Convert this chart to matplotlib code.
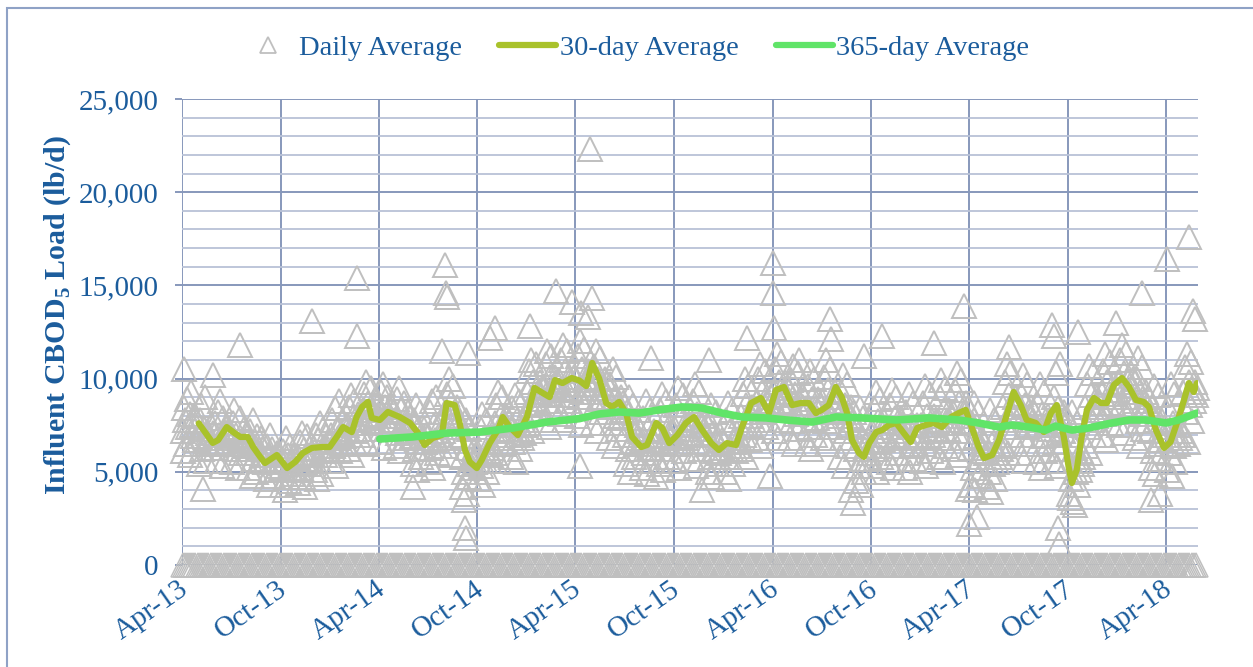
import numpy as np
import pandas as pd
import matplotlib
matplotlib.use("Agg")
import matplotlib.pyplot as plt
import matplotlib.dates as mdates
import matplotlib.transforms as mtransforms
from matplotlib.ticker import FuncFormatter, MultipleLocator
from matplotlib.lines import Line2D
from matplotlib.patches import Rectangle

plt.rcParams['font.family'] = ['Liberation Serif', 'DejaVu Serif']
plt.rcParams['mathtext.fontset'] = 'custom'
plt.rcParams['mathtext.rm'] = 'Liberation Serif'
plt.rcParams['mathtext.bf'] = 'Liberation Serif:bold'

TEXT = '#1B5C9C'
GRAY = '#BFBFBF'
C30 = '#A9C22B'
C365 = '#60E468'
GRID_MAJ = '#8798BB'
GRID_MIN = '#B9C2D7'

# daily CBOD5 load (lb/d), fifteen readings per month starting Apr-2013
daily_by_month = [
    [7200, 6100, 8400, 7800, 6500, 8900, 7400, 5900, 8100, 9300, 7500, 6900, 8000, 6700, 7700],
    [6900, 5400, 7800, 8600, 6200, 7300, 9000, 5600, 6500, 7100, 6800, 6300, 7500, 6600, 7100],
    [7600, 6300, 5600, 8200, 7000, 8800, 6600, 5300, 7900, 7200, 7100, 6500, 7400, 6900, 7300],
    [6800, 5500, 7600, 8300, 6200, 7000, 5200, 6500, 7900, 6000, 6700, 6200, 7300, 6400, 7000],
    [6000, 5200, 7200, 6600, 4800, 7800, 5700, 6400, 5000, 6900, 6200, 5600, 6800, 5900, 6300],
    [5500, 4600, 6400, 5900, 4300, 7000, 5100, 6200, 4800, 5700, 5600, 5100, 6000, 5300, 5900],
    [5200, 4300, 6100, 5600, 4000, 6800, 4700, 5900, 4500, 6400, 5400, 4900, 5800, 5100, 5700],
    [5800, 4400, 6600, 5200, 7100, 4700, 6200, 5500, 4200, 6900, 5900, 5400, 6300, 5700, 6000],
    [6300, 5100, 7000, 4600, 6700, 5600, 7600, 4900, 6100, 7300, 6400, 5900, 6900, 6200, 6600],
    [7000, 5600, 7800, 6400, 8400, 5300, 7300, 6800, 8800, 6100, 7100, 6500, 7700, 6900, 7300],
    [7500, 6200, 8500, 7000, 9100, 5900, 7900, 6600, 8800, 7200, 7600, 7000, 8100, 7300, 7800],
    [8300, 7000, 9200, 7600, 9800, 6500, 8700, 7900, 9500, 8100, 8300, 7700, 8900, 8000, 8500],
    [8000, 6600, 9300, 7300, 9700, 6300, 8500, 7700, 9000, 8200, 8000, 7400, 8600, 7800, 8200],
    [7800, 6400, 8900, 7100, 9500, 6100, 8300, 7400, 8700, 6800, 7700, 7200, 8200, 7500, 7900],
    [6900, 5400, 7800, 6200, 8600, 5100, 7300, 6600, 8200, 5800, 6800, 6200, 7300, 6600, 7000],
    [7000, 5500, 8200, 6300, 8800, 5200, 7500, 6700, 9000, 6000, 7000, 6400, 7600, 6800, 7200],
    [8200, 6400, 9200, 7400, 10000, 5900, 8700, 7000, 9600, 6800, 8000, 7400, 8500, 7700, 8200],
    [5800, 4200, 6900, 5000, 7800, 3800, 6300, 4700, 7300, 5400, 5700, 5200, 6200, 5500, 5900],
    [6000, 4600, 7400, 5300, 8100, 4300, 6800, 5600, 7800, 5000, 6100, 5600, 6600, 5900, 6300],
    [7600, 6000, 8600, 6800, 9300, 5600, 8000, 7200, 9000, 6500, 7500, 7000, 8000, 7300, 7700],
    [7300, 5800, 8400, 6600, 9100, 5500, 7800, 7000, 8800, 6200, 7300, 6800, 7800, 7100, 7500],
    [9300, 7600, 10400, 8600, 11000, 7200, 9800, 8900, 10800, 8200, 9300, 8700, 9800, 9100, 9500],
    [9600, 7800, 10800, 8800, 11500, 7400, 10100, 9200, 11200, 8500, 9600, 9100, 10100, 9400, 9800],
    [9900, 8100, 11000, 9100, 11800, 7800, 10400, 9500, 11500, 8800, 9900, 9400, 10400, 9700, 10100],
    [9900, 8000, 11200, 9000, 12000, 7500, 10500, 9300, 11600, 8600, 9900, 9300, 10400, 9700, 10100],
    [9500, 7600, 10700, 8600, 11500, 7200, 10000, 8900, 11100, 8200, 9500, 9000, 10000, 9300, 9700],
    [8500, 6800, 9700, 7600, 10500, 6400, 9000, 8000, 10100, 7300, 8500, 7900, 9000, 8300, 8700],
    [7000, 5400, 8200, 6200, 9000, 5000, 7600, 6600, 8600, 5800, 7000, 6500, 7500, 6800, 7200],
    [6700, 5200, 7900, 6000, 8800, 4900, 7300, 6300, 8300, 5600, 6700, 6200, 7200, 6500, 6900],
    [7000, 5400, 8300, 6200, 9200, 5100, 7600, 6600, 8800, 5800, 7000, 6500, 7500, 6800, 7200],
    [7300, 5600, 8600, 6500, 9500, 5200, 7900, 6900, 9100, 6100, 7300, 6800, 7800, 7100, 7500],
    [7500, 5700, 8800, 6600, 9700, 5300, 8100, 7000, 9300, 6200, 7500, 7000, 8000, 7300, 7700],
    [6500, 5000, 7700, 5800, 8600, 4700, 7100, 6100, 8200, 5400, 6500, 6000, 7000, 6300, 6700],
    [6600, 5000, 7800, 5800, 8700, 4600, 7200, 6200, 8300, 5400, 6600, 6100, 7100, 6400, 6800],
    [8000, 6200, 9200, 7000, 10000, 5800, 8600, 7400, 9600, 6700, 8000, 7500, 8500, 7800, 8200],
    [8800, 6800, 10000, 7800, 10800, 6400, 9300, 8200, 10400, 7400, 8800, 8300, 9300, 8600, 9000],
    [9300, 7200, 10500, 8300, 11300, 6800, 9800, 8700, 10900, 7800, 9300, 8800, 9800, 9100, 9500],
    [8700, 6800, 9900, 7700, 10700, 6500, 9200, 8100, 10300, 7300, 8700, 8200, 9200, 8500, 8900],
    [8400, 6500, 9600, 7400, 10400, 6200, 8900, 7800, 10000, 7000, 8400, 7900, 8900, 8200, 8600],
    [8800, 6800, 10100, 7700, 11000, 6500, 9400, 8200, 10500, 7400, 8800, 8300, 9300, 8600, 9000],
    [8000, 5800, 9300, 6800, 10200, 5300, 8600, 7200, 9700, 6400, 8000, 7500, 8500, 7800, 8200],
    [6200, 4500, 7400, 5300, 8400, 4300, 6800, 5700, 7900, 5000, 6200, 5700, 6700, 6000, 6400],
    [7200, 5300, 8400, 6200, 9300, 5000, 7700, 6600, 8900, 5800, 7200, 6700, 7700, 7000, 7400],
    [7400, 5500, 8600, 6400, 9400, 5200, 7900, 6800, 9000, 6000, 7400, 6900, 7900, 7200, 7600],
    [7000, 5200, 8200, 6000, 9200, 5000, 7500, 6400, 8700, 5700, 7000, 6500, 7500, 6800, 7200],
    [7500, 5600, 8700, 6500, 9600, 5300, 8000, 6900, 9200, 6100, 7500, 7000, 8000, 7300, 7700],
    [7800, 5800, 9000, 6800, 9900, 5500, 8300, 7200, 9500, 6400, 7800, 7300, 8300, 7600, 8000],
    [8200, 6200, 9400, 7200, 10300, 5900, 8700, 7600, 9900, 6800, 8200, 7700, 8700, 8000, 8400],
    [6300, 4300, 7600, 5200, 8700, 4000, 6900, 5600, 8200, 4800, 6300, 5800, 6800, 6100, 6500],
    [6000, 4200, 7200, 5000, 8300, 3900, 6500, 5400, 7800, 4600, 6000, 5500, 6500, 5800, 6200],
    [8500, 6400, 9800, 7400, 10800, 6000, 9100, 7800, 10300, 7000, 8500, 8000, 9000, 8300, 8700],
    [8000, 6000, 9200, 7000, 10200, 5600, 8600, 7400, 9700, 6500, 8000, 7500, 8500, 7800, 8200],
    [7500, 5500, 8700, 6500, 9700, 5200, 8100, 6900, 9300, 6100, 7500, 7000, 8000, 7300, 7700],
    [7700, 5600, 9000, 6600, 10300, 5300, 8400, 7100, 10800, 6200, 7700, 7200, 8200, 7500, 7900],
    [5600, 3800, 7000, 4600, 8200, 3400, 6300, 5000, 7600, 4300, 5600, 5100, 6100, 5400, 5800],
    [8500, 6400, 9700, 7400, 10700, 6000, 9100, 7800, 10300, 7000, 8500, 8000, 9000, 8300, 8700],
    [9200, 7000, 10400, 8100, 11300, 6700, 9800, 8500, 10900, 7600, 9200, 8700, 9700, 9000, 9400],
    [9800, 7500, 11000, 8600, 11800, 7100, 10300, 9000, 11400, 8200, 9800, 9300, 10300, 9600, 10000],
    [8800, 6800, 10000, 7700, 11100, 6400, 9300, 8100, 10600, 7300, 8800, 8300, 9300, 8600, 9000],
    [7200, 5200, 8500, 6100, 9600, 4900, 7800, 6500, 9100, 5700, 7200, 6700, 7700, 7000, 7400],
    [7000, 5100, 8400, 6000, 9700, 4800, 7600, 6400, 9200, 5500, 7000, 6500, 7500, 6800, 7200],
    [9300, 7000, 10600, 8200, 11300, 6600, 9800, 8600, 10900, 7700, 9300, 8800, 9800, 9100, 9500],
]

# individual high / low daily readings
outlier_dates = [
    '2013-04-05', '2013-05-10', '2013-05-28', '2013-07-17', '2013-11-28',
    '2014-02-19', '2014-02-20', '2014-06-03', '2014-07-28', '2014-08-02',
    '2014-08-03', '2014-08-05', '2014-09-06', '2014-09-08', '2014-09-09',
    '2014-09-13', '2014-10-24', '2014-11-02', '2015-01-06', '2015-02-23',
    '2015-03-25', '2015-04-10', '2015-04-12', '2015-04-25', '2015-04-28',
    '2015-05-02', '2015-08-20', '2015-08-29', '2015-11-22', '2015-12-05',
    '2016-02-14', '2016-03-26', '2016-04-01', '2016-04-02', '2016-04-03',
    '2016-05-20', '2016-07-16', '2016-07-18', '2016-08-25', '2016-08-27',
    '2016-09-17', '2016-10-21', '2017-01-25', '2017-03-22', '2017-03-29',
    '2017-03-31', '2017-04-15', '2017-06-13', '2017-09-01', '2017-09-05',
    '2017-09-12', '2017-09-14', '2017-10-05', '2017-10-14', '2017-10-20',
    '2017-12-28', '2018-02-15', '2018-03-03', '2018-03-20', '2018-04-03',
    '2018-05-13', '2018-05-20', '2018-05-25',
]
outlier_values = [
    10500, 4100, 10200, 11800, 13100,
    15400, 12300, 4200, 11500, 16100,
    14600, 14400, 3500, 2000, 1450,
    11400, 12200, 12700, 12800, 14700,
    14100, 5300, 13500, 13300, 22300,
    14300, 11100, 4700, 4000, 11000,
    12200, 4800, 16200, 14600, 12700,
    11000, 13200, 12100, 4000, 3300,
    11200, 12300, 11900, 13900, 4100,
    2200, 2600, 11700, 12900, 12300,
    2000, 1100, 3600, 3200, 12500,
    13000, 14600, 3500, 3800, 16400,
    17600, 13600, 13200,
]

# days logged as zero load (the band along the x axis)
zero_start, zero_end = '2013-04-02', '2018-05-29'

avg30_dates = [
    '2013-05-02', '2013-05-28', '2013-06-07', '2013-06-23', '2013-07-05',
    '2013-07-18', '2013-08-01', '2013-08-11', '2013-08-24', '2013-09-02',
    '2013-09-24', '2013-10-13', '2013-10-28', '2013-11-11', '2013-11-28',
    '2013-12-17', '2013-12-31', '2014-01-13', '2014-01-25', '2014-02-10',
    '2014-02-19', '2014-03-01', '2014-03-12', '2014-03-19', '2014-04-03',
    '2014-04-18', '2014-05-10', '2014-05-29', '2014-06-13', '2014-06-25',
    '2014-07-10', '2014-07-27', '2014-08-05', '2014-08-20', '2014-08-29',
    '2014-09-08', '2014-09-17', '2014-09-30', '2014-10-09', '2014-10-24',
    '2014-11-08', '2014-11-17', '2014-11-30', '2014-12-15', '2015-01-01',
    '2015-01-15', '2015-01-30', '2015-02-12', '2015-02-22', '2015-03-08',
    '2015-03-25', '2015-04-08', '2015-04-21', '2015-05-02', '2015-05-15',
    '2015-05-28', '2015-06-08', '2015-06-21', '2015-07-04', '2015-07-15',
    '2015-08-01', '2015-08-12', '2015-08-29', '2015-09-09', '2015-09-22',
    '2015-10-07', '2015-10-23', '2015-11-07', '2015-11-22', '2015-12-09',
    '2015-12-23', '2016-01-07', '2016-01-24', '2016-02-04', '2016-02-21',
    '2016-03-10', '2016-03-25', '2016-04-07', '2016-04-22', '2016-05-07',
    '2016-05-23', '2016-06-07', '2016-06-20', '2016-07-01', '2016-07-14',
    '2016-07-27', '2016-08-07', '2016-08-17', '2016-08-26', '2016-09-08',
    '2016-09-17', '2016-09-27', '2016-10-10', '2016-10-21', '2016-11-03',
    '2016-11-16', '2016-11-30', '2016-12-13', '2016-12-25', '2017-01-10',
    '2017-01-25', '2017-02-09', '2017-02-26', '2017-03-12', '2017-03-25',
    '2017-04-05', '2017-04-18', '2017-04-28', '2017-05-13', '2017-05-26',
    '2017-06-08', '2017-06-22', '2017-07-05', '2017-07-16', '2017-08-02',
    '2017-08-17', '2017-08-30', '2017-09-10', '2017-09-23', '2017-10-02',
    '2017-10-08', '2017-10-17', '2017-10-26', '2017-11-05', '2017-11-18',
    '2017-12-01', '2017-12-12', '2017-12-25', '2018-01-09', '2018-01-22',
    '2018-02-04', '2018-02-18', '2018-02-28', '2018-03-13', '2018-03-28',
    '2018-04-09', '2018-04-21', '2018-05-04', '2018-05-13', '2018-05-22',
    '2018-05-28',
]
avg30_values = [
    7600, 6550, 6700, 7400, 7130,
    6870, 6870, 6330, 5800, 5470,
    5900, 5200, 5530, 6000, 6280,
    6330, 6330, 6870, 7400, 7130,
    7940, 8480, 8750, 7890, 7780,
    8210, 7940, 7620, 7080, 6440,
    6810, 6970, 8690, 8580, 7620,
    6170, 5530, 5200, 5630, 6540,
    7240, 7940, 7400, 6970, 7940,
    9500, 9230, 9010, 9920, 9760,
    10030, 9900, 9600, 10840, 10000,
    8690, 8480, 8750, 8150, 6870,
    6330, 6440, 7620, 7350, 6540,
    6970, 7620, 7940, 7240, 6540,
    6170, 6540, 6440, 7400, 8690,
    8960, 8150, 9390, 9550, 8580,
    8690, 8690, 8150, 8320, 8580,
    9550, 9010, 8150, 6710, 6010,
    5800, 6540, 7130, 7240, 7510,
    7620, 7080, 6600, 7350, 7510,
    7620, 7400, 7940, 8150, 8320,
    7400, 6330, 5740, 5900, 6710,
    7940, 9280, 8580, 7780, 7620,
    7130, 8150, 8580, 6870, 5260,
    4400, 5100, 6870, 8320, 8960,
    8690, 8690, 9660, 10030, 9550,
    8850, 8750, 8480, 7240, 6280,
    6600, 7620, 8850, 9760, 9280,
    9760,
]

avg365_dates = [
    '2014-04-03', '2014-06-03', '2014-08-05', '2014-10-05', '2014-12-06',
    '2015-02-07', '2015-04-08', '2015-05-15', '2015-06-21', '2015-07-28',
    '2015-09-03', '2015-10-16', '2015-11-22', '2015-12-29', '2016-02-04',
    '2016-03-20', '2016-04-26', '2016-06-13', '2016-07-27', '2016-09-14',
    '2016-11-16', '2017-01-16', '2017-03-12', '2017-04-18', '2017-05-26',
    '2017-06-19', '2017-07-20', '2017-08-21', '2017-09-08', '2017-10-08',
    '2017-11-08', '2017-12-21', '2018-01-22', '2018-02-22', '2018-04-01',
    '2018-04-24', '2018-05-28',
]
avg365_values = [
    6760, 6870, 7080, 7130, 7350,
    7670, 7850, 8100, 8210, 8150,
    8320, 8480, 8420, 8150, 7940,
    7890, 7780, 7670, 7940, 7890,
    7780, 7890, 7780, 7620, 7400,
    7510, 7400, 7240, 7450, 7240,
    7350, 7620, 7780, 7780, 7620,
    7780, 8150,
]

# assemble daily series
months = pd.date_range('2013-04-01', periods=len(daily_by_month), freq='MS')
daily_x, daily_y = [], []
for start, vals in zip(months, daily_by_month):
    step = (start.days_in_month - 2) / len(vals)
    for i, v in enumerate(vals):
        daily_x.append(start + pd.Timedelta(days=int(i * step) + 1))
        daily_y.append(v)
daily_x += list(pd.to_datetime(outlier_dates))
daily_y += outlier_values
zero_x = pd.date_range(zero_start, zero_end, freq='4D')

W, H = 1253, 667
fig = plt.figure(figsize=(W / 100, H / 100), dpi=100)
ax = fig.add_axes([182 / W, 1 - 565 / H, (1198 - 182) / W, (565 - 99) / H])

ax.plot(zero_x, [0] * len(zero_x), ls='none', marker='^', mfc='none', mec=GRAY,
        ms=17, mew=1.1, clip_on=False, zorder=3)
ax.plot(daily_x, daily_y, ls='none', marker='^', mfc='none', mec=GRAY,
        ms=17, mew=1.4, clip_on=False, zorder=3)
ax.plot(pd.to_datetime(avg30_dates), avg30_values, color=C30, lw=4.5,
        solid_capstyle='round', solid_joinstyle='round', zorder=4)
ax.plot(pd.to_datetime(avg365_dates), avg365_values, color=C365, lw=5.5,
        solid_capstyle='round', solid_joinstyle='round', zorder=5)

ax.set_xlim(pd.Timestamp('2013-04-01'), pd.Timestamp('2018-05-30'))
ax.set_ylim(0, 25000)
ax.yaxis.set_major_locator(MultipleLocator(5000))
ax.yaxis.set_minor_locator(MultipleLocator(1000))
ax.yaxis.set_major_formatter(FuncFormatter(lambda v, p: f'{int(v):,}'))
ax.xaxis.set_major_locator(mdates.MonthLocator(bymonth=[4, 10]))
ax.xaxis.set_major_formatter(mdates.DateFormatter('%b-%y'))

ax.set_axisbelow(True)
ax.grid(which='major', axis='both', color=GRID_MAJ, lw=1.4)
ax.grid(which='minor', axis='y', color=GRID_MIN, lw=1.3)
for s in ax.spines.values():
    s.set_visible(False)

ax.tick_params(axis='y', which='major', length=5, width=1.4, color=GRID_MAJ,
               pad=12, labelsize=21, labelcolor=TEXT)
ax.tick_params(axis='y', which='minor', length=0)
ax.tick_params(axis='x', which='major', length=0, pad=8, labelsize=21,
               labelcolor=TEXT)
shift = mtransforms.ScaledTranslation(-0.04, 0, fig.dpi_scale_trans)
for lab in ax.get_xticklabels():
    lab.set_rotation(35)
    lab.set_ha('right')
    lab.set_va('top')
    lab.set_rotation_mode('anchor')
    lab.set_transform(lab.get_transform() + shift)

fig.text(58 / W, 1 - 315 / H, r'Influent CBOD$_\mathbf{5}$ Load (lb/d)',
         rotation=90, ha='center', va='center', fontsize=21.5,
         fontweight='bold', color=TEXT)

handles = [
    Line2D([], [], ls='none', marker='^', mfc='none', mec=GRAY, ms=12, mew=1.3),
    Line2D([], [], color=C30, lw=4.5, solid_capstyle='round'),
    Line2D([], [], color=C365, lw=4.5, solid_capstyle='round'),
]
fig.legend(handles, ['Daily Average', '30-day Average', '365-day Average'],
           ncol=3, loc='center', bbox_to_anchor=(0.506, 1 - 48 / H),
           frameon=False, fontsize=20.5, labelcolor=TEXT, handlelength=2.0,
           handletextpad=0.12, columnspacing=1.3)

fig.add_artist(Rectangle((7 / W, -0.1), 1.2, 1.1 - 7.5 / H, fill=False,
                         ec='#8FA2C6', lw=1.5, transform=fig.transFigure))

fig.savefig('out.png', dpi=100)
